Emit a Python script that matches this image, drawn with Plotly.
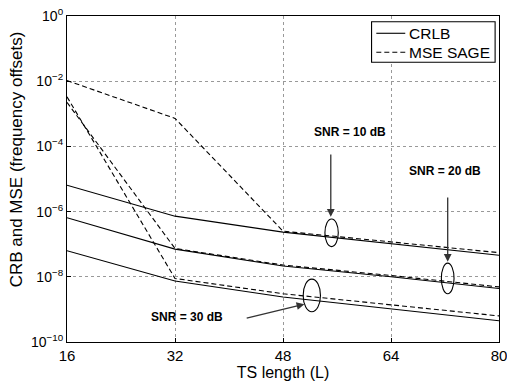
import plotly.graph_objects as go

L = [16, 32, 48, 64, 80]

crlb_10 = [10**-5.19, 10**-6.14, 10**-6.63, 10**-6.98, 10**-7.34]
crlb_20 = [10**-6.19, 10**-7.15, 10**-7.67, 10**-8.00, 10**-8.36]
crlb_30 = [10**-7.20, 10**-8.13, 10**-8.62, 10**-8.98, 10**-9.35]

mse_10 = [10**-1.98, 10**-3.14, 10**-6.60, 10**-6.93, 10**-7.26]
mse_20 = [10**-2.65, 10**-7.13, 10**-7.64, 10**-7.96, 10**-8.31]
mse_30 = [10**-2.48, 10**-8.05, 10**-8.52, 10**-8.86, 10**-9.20]

series_names = ["CRLB", "MSE SAGE"]

ytick_vals = [1, 1e-2, 1e-4, 1e-6, 1e-8, 1e-10]
ytick_text = ["10<sup>0</sup>", "10<sup>−2</sup>", "10<sup>−4</sup>",
              "10<sup>−6</sup>", "10<sup>−8</sup>", "10<sup>−10</sup>"]
xtick_vals = [16, 32, 48, 64, 80]

X_RANGE = [16, 80]
LOGY_RANGE = [-10, 0]

FONT = "Liberation Sans, Arial, Helvetica, sans-serif"
SOLID = dict(color="black", width=1.1)
DASHED = dict(color="black", width=1.1, dash="5px,3px")

fig = go.Figure()
for i, c in enumerate([crlb_10, crlb_20, crlb_30]):
    fig.add_trace(go.Scatter(x=L, y=c, mode="lines", name=series_names[0],
                             line=SOLID, showlegend=False, legendgroup="crlb"))
for i, m in enumerate([mse_10, mse_20, mse_30]):
    fig.add_trace(go.Scatter(x=L, y=m, mode="lines", name=series_names[1],
                             line=DASHED, showlegend=False, legendgroup="mse"))

# annotation geometry (x in L units, y in log10 units)
labels = [
    dict(text="SNR = 10 dB", x=57.9, y=-3.57),
    dict(text="SNR = 20 dB", x=72.0, y=-4.76),
    dict(text="SNR = 30 dB", x=33.8, y=-9.23),
]
arrows = [
    dict(x=55.08, y=-6.16, ax=55.08, ay=-4.20),
    dict(x=72.4, y=-7.54, ax=72.4, ay=-5.52),
    dict(x=51.17, y=-8.84, ax=42.4, ay=-9.28),
]
ellipses = [
    dict(cx=55.2, cy=-6.65, rx=0.99, ry=0.425),
    dict(cx=72.4, cy=-8.05, rx=0.94, ry=0.47),
    dict(cx=52.27, cy=-8.57, rx=1.28, ry=0.50),
]


def px_(xv):
    return (xv - X_RANGE[0]) / (X_RANGE[1] - X_RANGE[0])


def py_(lv):
    return (lv - LOGY_RANGE[0]) / (LOGY_RANGE[1] - LOGY_RANGE[0])


for lb in labels:
    fig.add_annotation(x=lb["x"], y=lb["y"], xref="x", yref="y", text="<b>" + lb["text"] + "</b>",
                       showarrow=False, font=dict(family=FONT, size=12, color="black"))
for a in arrows:
    fig.add_annotation(x=a["x"], y=a["y"], ax=a["ax"], ay=a["ay"], xref="x", yref="y",
                       axref="x", ayref="y", text="", showarrow=True, arrowhead=2,
                       arrowsize=1.2, arrowwidth=1.3, arrowcolor="#333333", standoff=0)
for e in ellipses:
    fig.add_shape(type="circle", xref="paper", yref="paper",
                  x0=px_(e["cx"] - e["rx"]), x1=px_(e["cx"] + e["rx"]),
                  y0=py_(e["cy"] - e["ry"]), y1=py_(e["cy"] + e["ry"]),
                  line=dict(color="black", width=1.1))

# legend box (paper coordinates), drawn like the MATLAB legend
LEG_BOX = dict(x0=0.705, x1=0.991, y0=0.858, y1=0.9825)
LEG_ROWS = [0.947, 0.889]
LEG_LINE_X = [0.716, 0.783]
LEG_TEXT_X = 0.786
fig.add_shape(type="rect", xref="paper", yref="paper", layer="above",
              fillcolor="white", line=dict(color="black", width=1.1), **LEG_BOX)
for name, style, yy in zip(series_names, [SOLID, DASHED], LEG_ROWS):
    fig.add_shape(type="line", xref="paper", yref="paper", layer="above",
                  x0=LEG_LINE_X[0], x1=LEG_LINE_X[1], y0=yy, y1=yy, line=style)
    fig.add_annotation(x=LEG_TEXT_X, y=yy, xref="paper", yref="paper", text=name,
                       showarrow=False, xanchor="left", yanchor="middle",
                       font=dict(family=FONT, size=15.5, color="black"))

axis_common = dict(showline=True, linecolor="black", linewidth=1.2, mirror=True,
                   showgrid=True, gridcolor="#999999", griddash="dot", gridwidth=1,
                   zeroline=False, ticks="inside", ticklen=4, tickcolor="black",
                   automargin=False, ticklabeloverflow="allow")

fig.update_xaxes(range=X_RANGE, tickvals=xtick_vals,
                 tickfont=dict(family=FONT, size=15, color="black"),
                 title=dict(text="TS length (L)", font=dict(family=FONT, size=16, color="black"),
                            standoff=0),
                 **axis_common)
fig.update_yaxes(type="log", range=LOGY_RANGE, tickvals=ytick_vals, ticktext=ytick_text,
                 tickfont=dict(family=FONT, size=14, color="black"),
                 **axis_common)
fig.add_annotation(x=-0.116, y=0.56, xref="paper", yref="paper", textangle=-90,
                   text="CRB and MSE (frequency offsets)", showarrow=False,
                   xanchor="center", yanchor="middle",
                   font=dict(family=FONT, size=17, color="black"))

fig.update_layout(
    width=507, height=383,
    margin=dict(l=67, r=8, t=16, b=41, autoexpand=False),
    paper_bgcolor="white", plot_bgcolor="white",
    font=dict(family=FONT, color="black"),
    showlegend=False,
)

fig.write_html("out.html", config={"displayModeBar": False},
               post_script="document.body.style.margin='0';")
